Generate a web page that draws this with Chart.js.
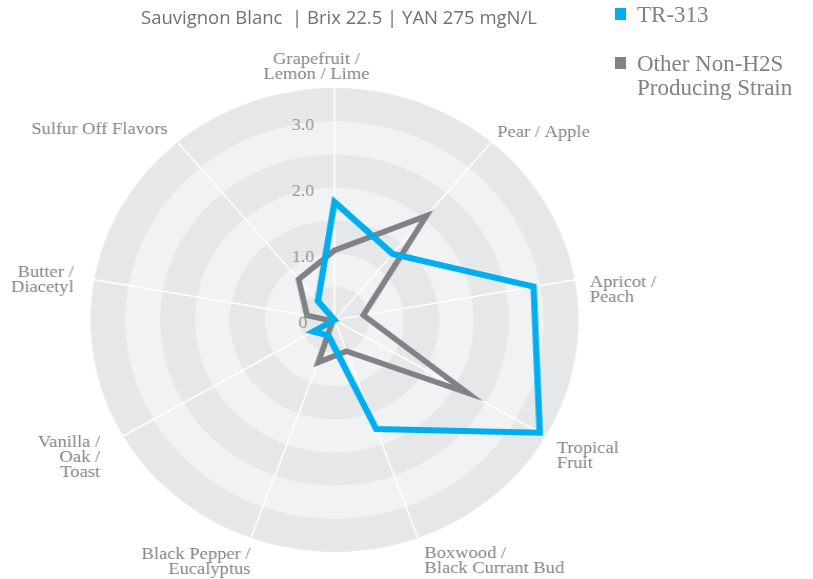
<!DOCTYPE html>
<html lang="en">
<head>
<meta charset="UTF-8">
<title>Sauvignon Blanc aroma profile</title>
<script src="https://cdn.jsdelivr.net/npm/chart.js"></script>
<style>
    html, body { margin: 0; padding: 0; background: #fff; overflow: hidden; }
    #wrap { position: relative; width: 813px; height: 579px; overflow: hidden; }
    #radar { position: absolute; left: 0; top: 0; }
    #title {
        position: absolute; left: 141px; top: 4px;
        font-family: 'Open Sans', sans-serif; font-size: 18.5px; color: #707174;
        white-space: pre;
    }
    .legend {
        position: absolute; left: 615px;
        font-family: 'Liberation Serif', serif; font-size: 23px; color: #808285;
        line-height: 24px;
    }
    .legend i { position: absolute; left: 0; top: 5px; width: 11px; height: 12px; }
    .legend span { display: block; margin-left: 22px; }
</style>
</head>
<body>
<div id="wrap">
    <!-- 元の図は横に約5%引き伸ばされているので、キャンバスも横方向に拡大表示 -->
    <canvas id="radar" width="773" height="579" style="width:813px;height:579px"></canvas>
    <div id="title">Sauvignon Blanc  | Brix 22.5 | YAN 275 mgN/L</div>
    <div class="legend" style="top:3px"><i style="background:#00aeef"></i><span>TR-313</span></div>
    <div class="legend" style="top:52px"><i style="background:#808285"></i><span>Other Non-H2S<br>Producing Strain</span></div>
</div>

<script>
    // 軸ラベル（時計回り、上から）
    const axisLabels = [
        ['Grapefruit /', 'Lemon / Lime'],
        ['Pear / Apple'],
        ['Apricot /', 'Peach'],
        ['Tropical', 'Fruit'],
        ['Boxwood /', 'Black Currant Bud'],
        ['Black Pepper /', 'Eucalyptus'],
        ['Vanilla /', 'Oak /', 'Toast'],
        ['Butter /', 'Diacetyl'],
        ['Sulfur Off Flavors']
    ];
    const tr313 = [1.78, 1.3, 2.9, 3.4, 1.75, 0.25, 0.35, 0, 0.37];
    const otherStrain = [1.05, 2.05, 0.42, 2.2, 0.5, 0.68, 0.03, 0.4, 0.8];
    const tickValues = [0, 1, 2, 3];
    const bandEdges = [3.5, 3, 2.5, 2, 1.5, 1, 0.5];

    // 横方向の表示倍率（CSS幅 / キャンバス幅）
    const SX = 813 / 773;

    // ラベルの配置（外周上の点からのずれ、画面px）と揃え方
    const labelPlacement = [
        { align: 'center', dx: -18, dy: -24 },
        { align: 'left', dx: 6, dy: -5 },
        { align: 'left', dx: 15, dy: 7 },
        { align: 'left', dx: 11, dy: 17 },
        { align: 'left', dx: 6.5, dy: 20 },
        { align: 'right', dx: -0.5, dy: 21 },
        { align: 'right', dx: -23, dy: 11 },
        { align: 'right', dx: -20.5, dy: -3 },
        { align: 'right', dx: -10, dy: -8 },
    ];

    const radarDecor = {
        id: 'radarDecor',
        // 背景の同心円バンド
        beforeDraw(chart) {
            const r = chart.scales.r;
            const c = chart.ctx;
            c.save();
            bandEdges.forEach((v, i) => {
                c.beginPath();
                c.arc(r.xCenter, r.yCenter, r.getDistanceFromCenterForValue(v), 0, Math.PI * 2);
                c.fillStyle = i % 2 === 0 ? '#e6e7e8' : '#f1f2f3';
                c.fill();
            });
            c.restore();
        },
        // 目盛りの数字と軸ラベル
        beforeDatasetsDraw(chart) {
            const r = chart.scales.r;
            const c = chart.ctx;
            c.save();
            c.font = '17px "Liberation Serif", serif';
            c.fillStyle = '#939598';
            c.textAlign = 'center';
            c.textBaseline = 'middle';
            tickValues.forEach((v) => {
                const y = r.yCenter - r.getDistanceFromCenterForValue(v) + 4;
                c.fillText(v === 0 ? '0' : v.toFixed(1), r.xCenter - 30, y);
            });

            c.font = '17.6px "Liberation Serif", serif';
            c.fillStyle = '#808285';
            c.textBaseline = 'alphabetic';
            axisLabels.forEach((lines, i) => {
                const p = r.getPointPosition(i, r.drawingArea);
                const pl = labelPlacement[i];
                c.textAlign = pl.align;
                lines.forEach((line, k) => {
                    c.fillText(line, p.x + pl.dx / SX, p.y + pl.dy + k * 15);
                });
            });
            c.restore();
        }
    };

    const ctx = document.getElementById('radar').getContext('2d');
    new Chart(ctx, {
        type: 'radar',
        data: {
            labels: axisLabels,
            datasets: [
                {
                    label: 'TR-313',
                    data: tr313,
                    borderColor: '#00aeef',
                    borderWidth: 6,
                    pointRadius: 0,
                    fill: false,
                },
                {
                    label: 'Other Non-H2S Producing Strain',
                    data: otherStrain,
                    borderColor: '#808285',
                    borderWidth: 5.5,
                    pointRadius: 0,
                    fill: false,
                },
            ],
        },
        options: {
            responsive: false,
            animation: false,
            layout: { padding: { left: 0, right: 137, top: 88, bottom: 27 } },
            plugins: {
                legend: { display: false },
                tooltip: { enabled: false },
            },
            elements: { line: { borderJoinStyle: 'miter', tension: 0 } },
            scales: {
                r: {
                    min: 0,
                    max: 3.5,
                    ticks: { display: false, stepSize: 0.5 },
                    grid: { display: false },
                    angleLines: { color: '#ffffff', lineWidth: 1.5 },
                    pointLabels: { display: false },
                },
            },
        },
        plugins: [radarDecor],
    });
</script>
</body>
</html>
